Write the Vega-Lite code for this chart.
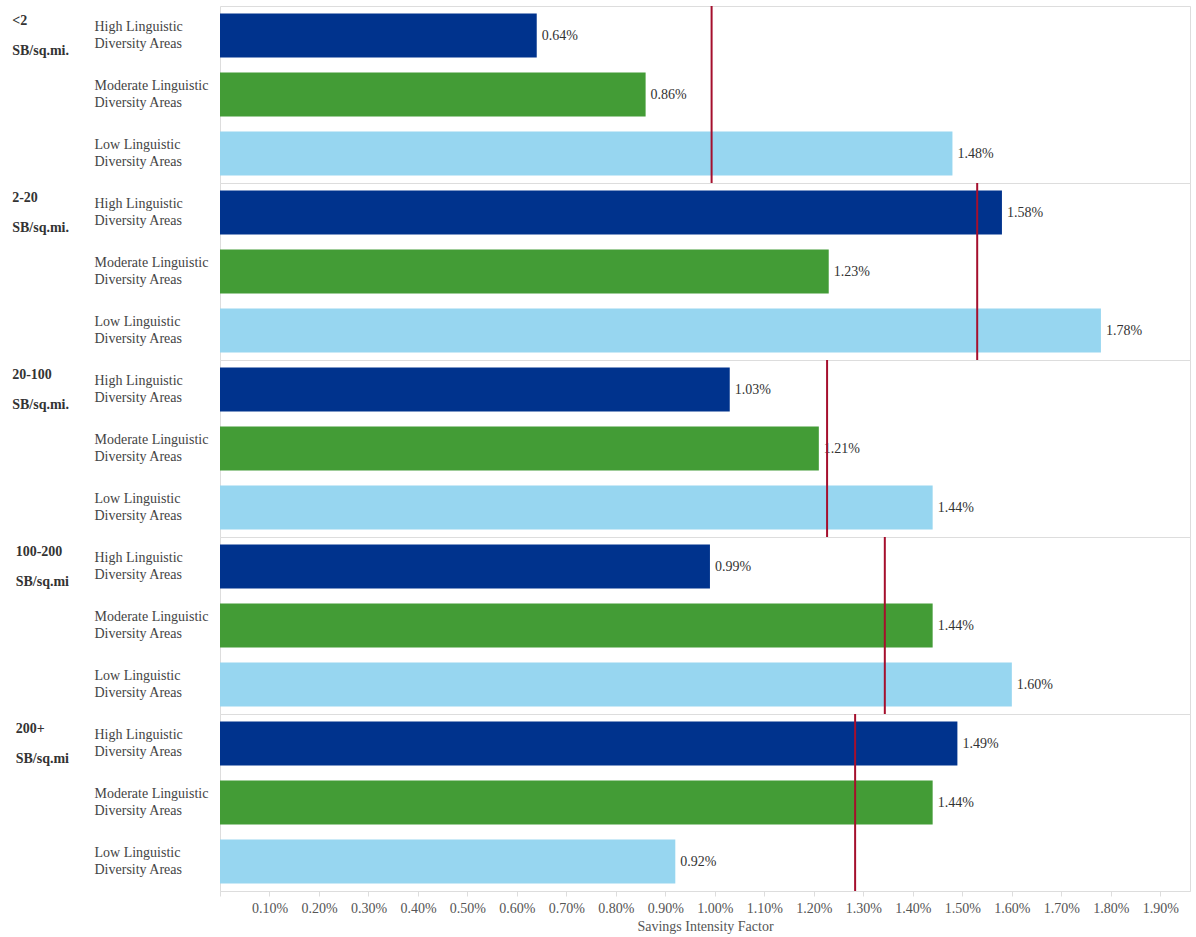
{
  "$schema": "https://vega.github.io/schema/vega-lite/v6.json",
  "background": "white",
  "padding": {"left": 12, "top": 4, "right": 6, "bottom": 2},
  "bounds": "flush",
  "data": {"values": [
    {"density": "<2 SB/sq.mi.", "diversity": "High Linguistic Diversity Areas", "value": 0.0064},
    {"density": "<2 SB/sq.mi.", "diversity": "Moderate Linguistic Diversity Areas", "value": 0.0086},
    {"density": "<2 SB/sq.mi.", "diversity": "Low Linguistic Diversity Areas", "value": 0.0148},
    {"density": "2-20 SB/sq.mi.", "diversity": "High Linguistic Diversity Areas", "value": 0.0158},
    {"density": "2-20 SB/sq.mi.", "diversity": "Moderate Linguistic Diversity Areas", "value": 0.0123},
    {"density": "2-20 SB/sq.mi.", "diversity": "Low Linguistic Diversity Areas", "value": 0.0178},
    {"density": "20-100 SB/sq.mi.", "diversity": "High Linguistic Diversity Areas", "value": 0.0103},
    {"density": "20-100 SB/sq.mi.", "diversity": "Moderate Linguistic Diversity Areas", "value": 0.0121},
    {"density": "20-100 SB/sq.mi.", "diversity": "Low Linguistic Diversity Areas", "value": 0.0144},
    {"density": "100-200 SB/sq.mi", "diversity": "High Linguistic Diversity Areas", "value": 0.0099},
    {"density": "100-200 SB/sq.mi", "diversity": "Moderate Linguistic Diversity Areas", "value": 0.0144},
    {"density": "100-200 SB/sq.mi", "diversity": "Low Linguistic Diversity Areas", "value": 0.0160},
    {"density": "200+ SB/sq.mi", "diversity": "High Linguistic Diversity Areas", "value": 0.0149},
    {"density": "200+ SB/sq.mi", "diversity": "Moderate Linguistic Diversity Areas", "value": 0.0144},
    {"density": "200+ SB/sq.mi", "diversity": "Low Linguistic Diversity Areas", "value": 0.0092}
  ]},
  "facet": {
    "row": {
      "field": "density",
      "type": "nominal",
      "sort": ["<2 SB/sq.mi.", "2-20 SB/sq.mi.", "20-100 SB/sq.mi.", "100-200 SB/sq.mi", "200+ SB/sq.mi"],
      "header": {
        "title": null,
        "labelOrient": "left",
        "labelAngle": 0,
        "labelAlign": "left",
        "labelAnchor": "end",
        "labelBaseline": "line-top",
        "labelFont": "Liberation Serif",
        "labelFontSize": 14,
        "labelFontWeight": "bold",
        "labelColor": "#333333",
        "labelLineHeight": 30,
        "labelPadding": 25,
        "labelExpr": "split(datum.label, ' ')"
      }
    }
  },
  "spacing": 0,
  "spec": {
    "width": 970,
    "height": 177,
    "layer": [
      {
        "mark": {"type": "bar"},
        "encoding": {
          "y": {
            "field": "diversity",
            "type": "nominal",
            "sort": ["High Linguistic Diversity Areas", "Moderate Linguistic Diversity Areas", "Low Linguistic Diversity Areas"],
            "scale": {"paddingInner": 0.254, "paddingOuter": 0.127},
            "axis": {
              "title": null,
              "ticks": false,
              "domain": false,
              "grid": false,
              "labelAlign": "left",
              "labelBaseline": "middle",
              "labelPadding": 126,
              "labelOffset": -9,
              "labelFont": "Liberation Serif",
              "labelFontSize": 14,
              "labelColor": "#444444",
              "labelLineHeight": 17,
              "labelLimit": 200,
              "labelExpr": "split(replace(datum.label, ' Diversity', '|Diversity'), '|')"
            }
          },
          "x": {
            "field": "value",
            "type": "quantitative",
            "scale": {"domain": [0, 0.0196], "nice": false, "zero": true},
            "axis": {
              "title": "Savings Intensity Factor",
              "titleFont": "Liberation Serif",
              "titleFontSize": 14,
              "titleFontWeight": "normal",
              "titleColor": "#555555",
              "titlePadding": 4,
              "values": [0, 0.001, 0.002, 0.003, 0.004, 0.005, 0.006, 0.007, 0.008, 0.009, 0.010, 0.011, 0.012, 0.013, 0.014, 0.015, 0.016, 0.017, 0.018, 0.019],
              "labelExpr": "datum.value == 0 ? '' : format(datum.value, '.2%')",
              "labelFont": "Liberation Serif",
              "labelFontSize": 14,
              "labelColor": "#555555",
              "labelPadding": 5,
              "grid": false,
              "domain": true,
              "domainColor": "#dddddd",
              "tickColor": "#dddddd",
              "tickSize": 5
            }
          },
          "color": {
            "field": "diversity",
            "type": "nominal",
            "scale": {
              "domain": ["High Linguistic Diversity Areas", "Moderate Linguistic Diversity Areas", "Low Linguistic Diversity Areas"],
              "range": ["#00338D", "#439C36", "#97D6F0"]
            },
            "legend": null
          }
        }
      },
      {
        "mark": {"type": "text", "align": "left", "baseline": "middle", "dx": 5, "font": "Liberation Serif", "fontSize": 14, "color": "#333333"},
        "encoding": {
          "y": {
            "field": "diversity",
            "type": "nominal",
            "sort": ["High Linguistic Diversity Areas", "Moderate Linguistic Diversity Areas", "Low Linguistic Diversity Areas"]
          },
          "x": {"field": "value", "type": "quantitative"},
          "text": {"field": "value", "type": "quantitative", "format": ".2%"}
        }
      },
      {
        "mark": {"type": "rule", "color": "#A50F2D", "strokeWidth": 2},
        "encoding": {
          "x": {"aggregate": "mean", "field": "value", "type": "quantitative"}
        }
      }
    ]
  },
  "config": {
    "view": {"stroke": "#dddddd", "strokeWidth": 1},
    "font": "Liberation Serif"
  }
}
